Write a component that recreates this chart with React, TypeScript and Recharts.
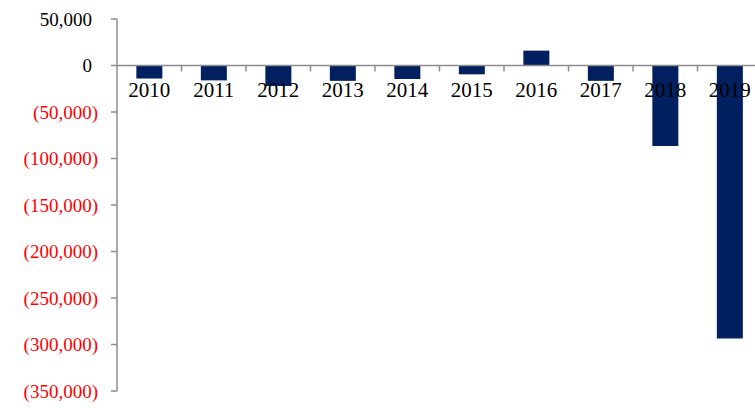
import React from 'react';
import { BarChart, Bar, XAxis, YAxis, ReferenceLine, ReferenceDot } from 'recharts';

const years = ['2010', '2011', '2012', '2013', '2014', '2015', '2016', '2017', '2018', '2019'];
const values = [-14000, -16000, -22000, -16500, -14500, -9500, 16000, -16500, -86500, -293500];
const yTicks = [50000, 0, -50000, -100000, -150000, -200000, -250000, -300000, -350000];

const data = years.map((year, i) => ({ year, value: values[i] }));

const FONT = '"Times New Roman", "Liberation Serif", serif';
const AXIS_GREY = '#8c8c8c';
const BAR_COLOR = '#002060';

const fmt = (v: number) => {
  const s = Math.abs(v).toLocaleString('en-US');
  return v < 0 ? `(${s})` : s;
};

const YTick = (props: any) => {
  const { x, y, payload } = props;
  const v = payload.value as number;
  const neg = v < 0;
  return (
    <text
      x={neg ? x : x - 6}
      y={y}
      dy="0.36em"
      textAnchor="end"
      fontFamily={FONT}
      fontSize={19}
      fill={neg ? '#ff0000' : '#000000'}
    >
      {fmt(v)}
    </text>
  );
};

// category label + boundary tick drawn on the zero line
const YearMark = (props: any) => {
  const { cx, cy, label } = props;
  const half = 32.25;
  return (
    <g>
      <line x1={cx + half} y1={cy} x2={cx + half} y2={cy + 6} stroke={AXIS_GREY} strokeWidth={1.5} />
      <text x={cx} y={cy + 31} textAnchor="middle" fontFamily={FONT} fontSize={21} fill="#000">
        {label}
      </text>
    </g>
  );
};

export default function App() {
  return (
    <div style={{ position: 'absolute', left: 0, top: 0, width: 755, height: 408, overflow: 'hidden', background: '#fff' }}>
      <BarChart
        width={775}
        height={408}
        data={data}
        margin={{ top: 19, right: 13, bottom: 17, left: 0 }}
        barCategoryGap="30%"
      >
        <XAxis dataKey="year" hide />
        <YAxis
          width={117}
          domain={[-350000, 50000]}
          ticks={yTicks}
          interval={0}
          tickSize={6}
          tickMargin={13}
          axisLine={{ stroke: AXIS_GREY, strokeWidth: 1.5 }}
          tickLine={{ stroke: AXIS_GREY, strokeWidth: 1.5 }}
          tick={<YTick />}
        />
        <Bar dataKey="value" fill={BAR_COLOR} isAnimationActive={false} />
        <ReferenceLine y={0} stroke={AXIS_GREY} strokeWidth={1.5} />
        {years.map((yr) => (
          <ReferenceDot
            key={yr}
            x={yr}
            y={0}
            r={0}
            shape={(p: any) => <YearMark {...p} label={yr} />}
          />
        ))}
      </BarChart>
    </div>
  );
}
